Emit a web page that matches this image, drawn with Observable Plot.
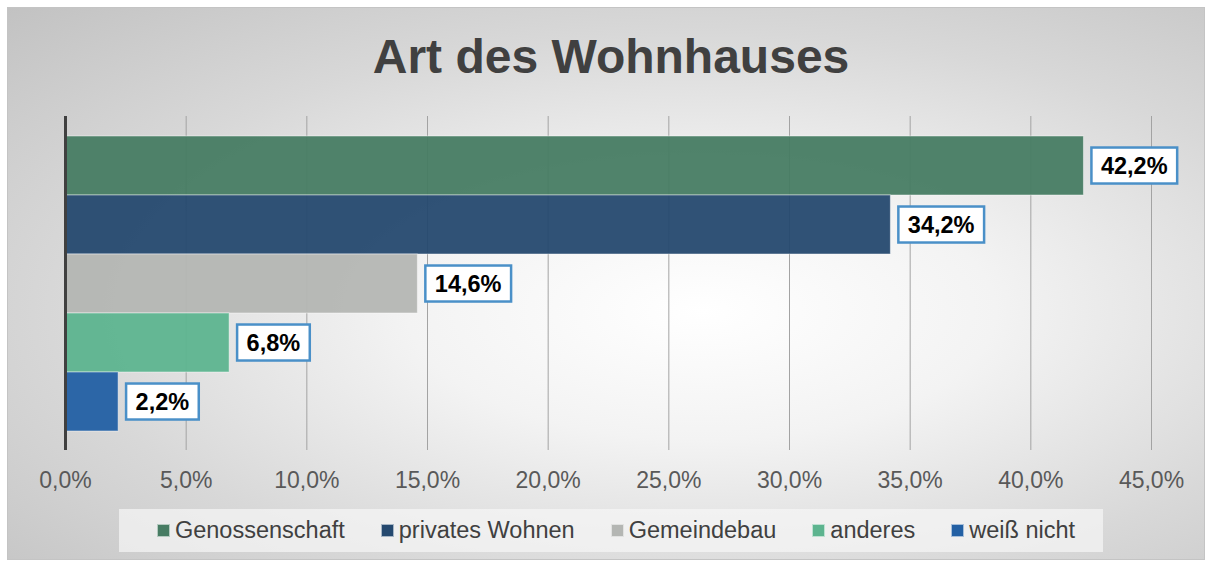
<!DOCTYPE html>
<html><head><meta charset="utf-8">
<script src="https://cdn.jsdelivr.net/npm/d3@7"></script>
<script src="https://cdn.jsdelivr.net/npm/@observablehq/plot@0.6"></script>
<style>
html,body{margin:0;padding:0;background:#fff;}
#wrap{position:relative;width:1210px;height:562px;overflow:hidden;font-family:"Liberation Sans",Arial,sans-serif;}
#frame{position:absolute;left:7px;top:7px;width:1196px;height:551px;border:1px solid #c4c4c4;
  background:radial-gradient(ellipse farthest-corner at 58% 55%, #ffffff 0%, #f3f3f3 30%, #d8d8d8 65%, #c2c2c2 100%);}
#title{position:absolute;left:4px;top:33px;width:1214px;text-align:center;font-size:48px;line-height:48px;font-weight:bold;color:#404040;}
#chart{position:absolute;left:0;top:100px;}
#legend{position:absolute;left:119px;top:509px;width:984px;height:43px;background:rgba(246,246,246,0.7);display:flex;align-items:center;justify-content:center;font-size:23.5px;color:#404040;padding-left:10px;box-sizing:border-box;}
.item{display:flex;align-items:center;margin:0 18px;white-space:nowrap;}
.sw{width:11px;height:11px;margin-right:5px;border:1px solid rgba(255,255,255,0.6);}
</style>
</head>
<body>
<div id="wrap">
  <div id="frame"></div>
  <div id="title">Art des Wohnhauses</div>
  <div id="chart"></div>
  <div id="legend"></div>
</div>
<script>
const categories = ["Genossenschaft", "privates Wohnen", "Gemeindebau", "anderes", "weiß nicht"];
const values = [42.2, 34.2, 14.6, 6.8, 2.2];
const colors = ["#477c63", "#25496f", "#b4b6b3", "#5db48f", "#2360a4"];
const xTicks = [0, 5, 10, 15, 20, 25, 30, 35, 40, 45];

const data = categories.map((c, i) => ({category: c, value: values[i]}));
const fmt = d => d.toFixed(1).replace(".", ",") + "%";

const plot = Plot.plot({
  width: 1210, height: 400,
  marginLeft: 65, marginRight: 59, marginTop: 16, marginBottom: 50,
  style: {background: "transparent", fontFamily: "'Liberation Sans', Arial, sans-serif", overflow: "visible"},
  x: {domain: [0, 45], label: null},
  y: {domain: categories, paddingInner: 0, paddingOuter: 0.33, axis: null},
  color: {domain: categories, range: colors},
  marks: [
    Plot.ruleX(xTicks.slice(1), {stroke: "#a3a3a3", strokeWidth: 1}),
    Plot.barX(data, {y: "category", x: "value", fill: "category", fillOpacity: 0.95, stroke: "#ffffff", strokeOpacity: 0.45, strokeWidth: 1}),
    Plot.ruleX([0], {stroke: "#404040", strokeWidth: 3}),
    Plot.axisX({ticks: xTicks, tickSize: 0, tickPadding: 21, tickFormat: fmt, fontSize: 23, color: "#595959", label: null}),
    Plot.text(data, {y: "category", x: "value", text: d => fmt(d.value), dx: 17, textAnchor: "start", fontSize: 23.5, fontWeight: "bold", fill: "#000000", ariaLabel: "value-label"})
  ]
});
document.getElementById("chart").append(plot);

// white boxes with blue border behind the value labels
const labelSet = new Set(values.map(fmt));
plot.querySelectorAll("g").forEach(g => {
  const al = g.getAttribute("aria-label") || "";
  if (al.includes("axis")) return;
  const texts = Array.from(g.children).filter(el => el.tagName.toLowerCase() === "text" && labelSet.has(el.textContent));
  texts.forEach(t => {
    const b = t.getBBox();
    const r = document.createElementNS("http://www.w3.org/2000/svg", "rect");
    r.setAttribute("x", b.x - 9.5);
    r.setAttribute("width", b.width + 19);
    r.setAttribute("y", b.y + b.height / 2 - 18);
    r.setAttribute("height", 36);
    r.setAttribute("fill", "#ffffff");
    r.setAttribute("stroke", "#4a90c8");
    r.setAttribute("stroke-width", 2.5);
    if (t.getAttribute("transform")) r.setAttribute("transform", t.getAttribute("transform"));
    g.insertBefore(r, t);
  });
});

// legend
const lg = document.getElementById("legend");
categories.forEach((c, i) => {
  const it = document.createElement("div");
  it.className = "item";
  const sw = document.createElement("div");
  sw.className = "sw";
  sw.style.background = colors[i];
  it.append(sw, document.createTextNode(c));
  lg.append(it);
});
</script>
</body></html>
